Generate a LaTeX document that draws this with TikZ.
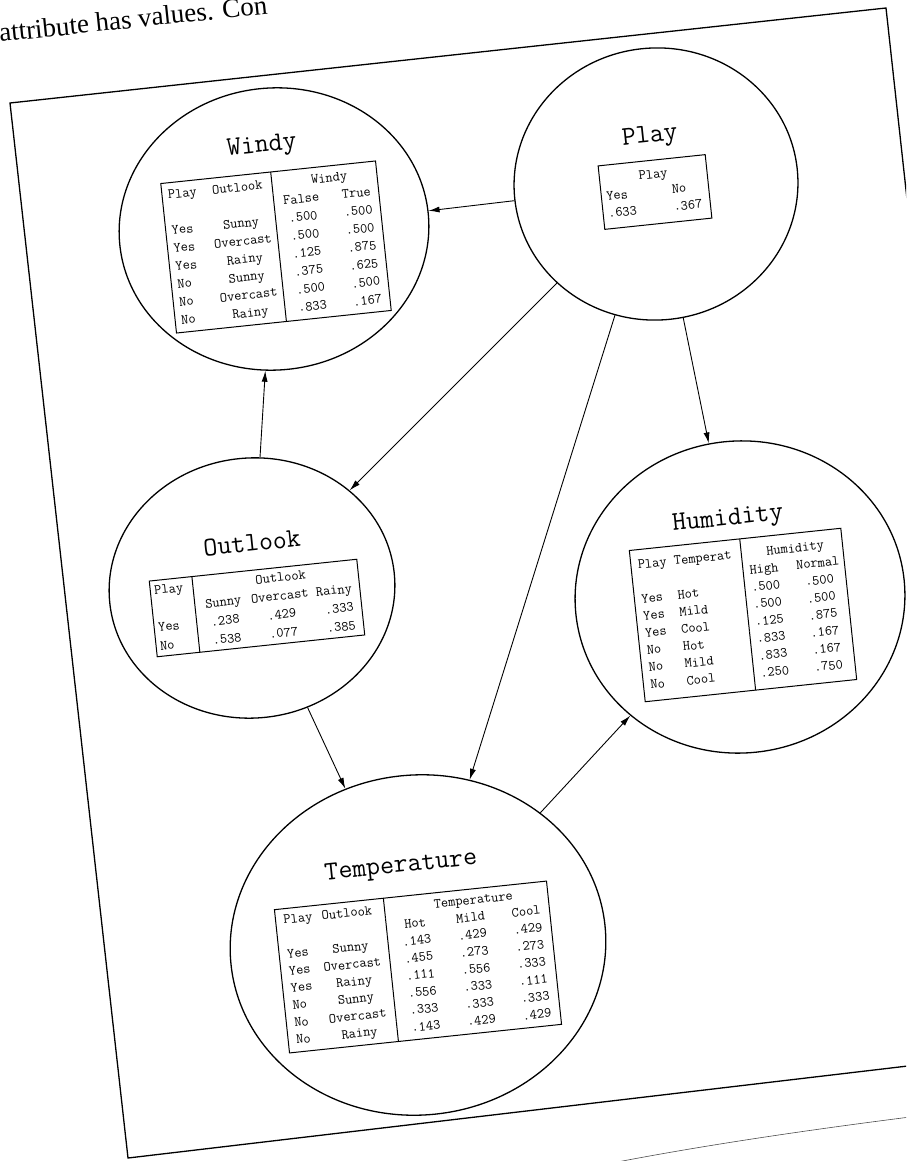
\documentclass[tikz,border=0pt]{standalone}
\usepackage{fontspec}
\setmainfont{Liberation Serif}
\usetikzlibrary{shapes.geometric,arrows.meta}
\renewcommand{\arraystretch}{1.15}
\setlength{\arrayrulewidth}{1pt}
\newcommand\mytpad[1]{\rule{0pt}{\dimexpr12.1pt+#1pt\relax}}
\newcommand\mybpad[1]{\rule[-\dimexpr5.2pt+#1pt\relax]{0pt}{0pt}}
\begin{document}
\begin{tikzpicture}[x=1pt,y=-1pt,
  ell/.style={draw, ellipse, line width=1.3pt, rotate=6, inner sep=0pt},
  lbl/.style={font=\ttfamily\fontsize{27}{29}\selectfont, rotate=6, inner sep=0pt},
  tab/.style={draw, line width=1pt, rotate=6, inner sep=0pt, font=\ttfamily\fontsize{14}{15}\selectfont},
  arr/.style={-{Latex[length=11pt,width=6pt]}, line width=0.9pt},
  frame/.style={line width=1.3pt}]
\useasboundingbox (0,0) rectangle (906,1161);
\clip (0,0) rectangle (906,1161);

% page frame and page curl
\draw[frame] (10,103) -- (886,8) -- (1001,1055) -- (128,1158) -- cycle;
\draw[line width=0.6pt, black!70] (612,1163) .. controls (700,1146) and (800,1131) .. (910,1117);

% caption fragment
\node[font=\fontsize{27}{30}\selectfont, rotate=6, anchor=base west, inner sep=0pt] (caption) at (0,42) {attribute has values. Con};

% circles
\node[ell, minimum width=284pt, minimum height=272pt] (play) at (656,184) {};
\node[ell, minimum width=310pt, minimum height=282pt] (windy) at (274,229) {};
\node[ell, minimum width=286pt, minimum height=260pt] (outlook) at (252,588) {};
\node[ell, minimum width=330pt, minimum height=312pt] (humidity) at (740,597) {};
\node[ell, minimum width=376pt, minimum height=340pt] (temperature) at (418,945) {};

% labels
\node[lbl] (playlbl) at (650,137) {Play};
\node[lbl] (windylbl) at (262,147) {Windy};
\node[lbl] (outlooklbl) at (252,543) {Outlook};
\node[lbl] (humiditylbl) at (728,520) {Humidity};
\node[lbl] (temperaturelbl) at (401,867) {Temperature};

% tables
\node[tab] (playtab) at (655,192) {%
\begin{tabular}{@{\hspace{5pt}}l@{\hspace{37pt}}l@{\hspace{8pt}}}
\multicolumn{2}{c}{\mytpad{6}Play}\\
Yes & No\\
.633 & .367\mybpad{6}
\end{tabular}};

\node[tab] (windytab) at (276,247) {%
\renewcommand{\arraystretch}{1.2}%
\begin{tabular}{@{\hspace{6pt}}l@{\hspace{12pt}}c@{\hspace{6pt}}|@{\hspace{9pt}}c@{\hspace{23pt}}c@{\hspace{8pt}}}
\mytpad{4}Play & Outlook & \multicolumn{2}{c}{Windy}\\
 & & False & True\\
Yes & Sunny & .500 & .500\\
Yes & Overcast & .500 & .500\\
Yes & Rainy & .125 & .875\\
No & Sunny & .375 & .625\\
No & Overcast & .500 & .500\\
No & Rainy & .833 & .167\mybpad{3}
\end{tabular}};

\node[tab] (outlooktab) at (257,608) {%
\renewcommand{\arraystretch}{1.24}%
\begin{tabular}{@{\hspace{4pt}}l@{\hspace{10pt}}|@{\hspace{10pt}}c@{\hspace{10pt}}c@{\hspace{7.5pt}}r@{\hspace{8pt}}}
\mytpad{2}Play & \multicolumn{3}{c}{Outlook}\\
 & Sunny & Overcast & Rainy\\
Yes & .238 & .429 & .333\\
No & .538 & .077 & .385\mybpad{1}
\end{tabular}};

\node[tab] (humiditytab) at (743,615) {%
\begin{tabular}{@{\hspace{7pt}}l@{\hspace{7.5pt}}l@{\hspace{10pt}}|@{\hspace{6pt}}c@{\hspace{18pt}}c@{\hspace{5pt}}}
\mytpad{7}Play & Temperat & \multicolumn{2}{c}{Humidity}\\
 & & High & Normal\\
Yes & Hot & .500 & .500\\
Yes & Mild & .500 & .500\\
Yes & Cool & .125 & .875\\
No & Hot & .833 & .167\\
No & Mild & .833 & .167\\
No & Cool & .250 & .750\mybpad{7}
\end{tabular}};

\node[tab] (temperaturetab) at (418,967) {%
\begin{tabular}{@{\hspace{8pt}}l@{\hspace{6pt}}c@{\hspace{9pt}}|@{\hspace{14pt}}c@{\hspace{27pt}}c@{\hspace{27pt}}c@{\hspace{9pt}}}
\mytpad{3}Play & Outlook & \multicolumn{3}{c}{Temperature}\\
 & & Hot & Mild & Cool\\
Yes & Sunny & .143 & .429 & .429\\
Yes & Overcast & .455 & .273 & .273\\
Yes & Rainy & .111 & .556 & .333\\
No & Sunny & .556 & .333 & .111\\
No & Overcast & .333 & .333 & .333\\
No & Rainy & .143 & .429 & .429\mybpad{3}
\end{tabular}};

% connectors
\draw[arr] (play) -- (windy);
\draw[arr] (play) -- (outlook);
\draw[arr] (play) -- (temperature);
\draw[arr] (play) -- (humidity);
\draw[arr] (outlook) -- (windy);
\draw[arr] (outlook) -- (temperature);
\draw[arr] (temperature) -- (humidity);
\end{tikzpicture}
\end{document}
